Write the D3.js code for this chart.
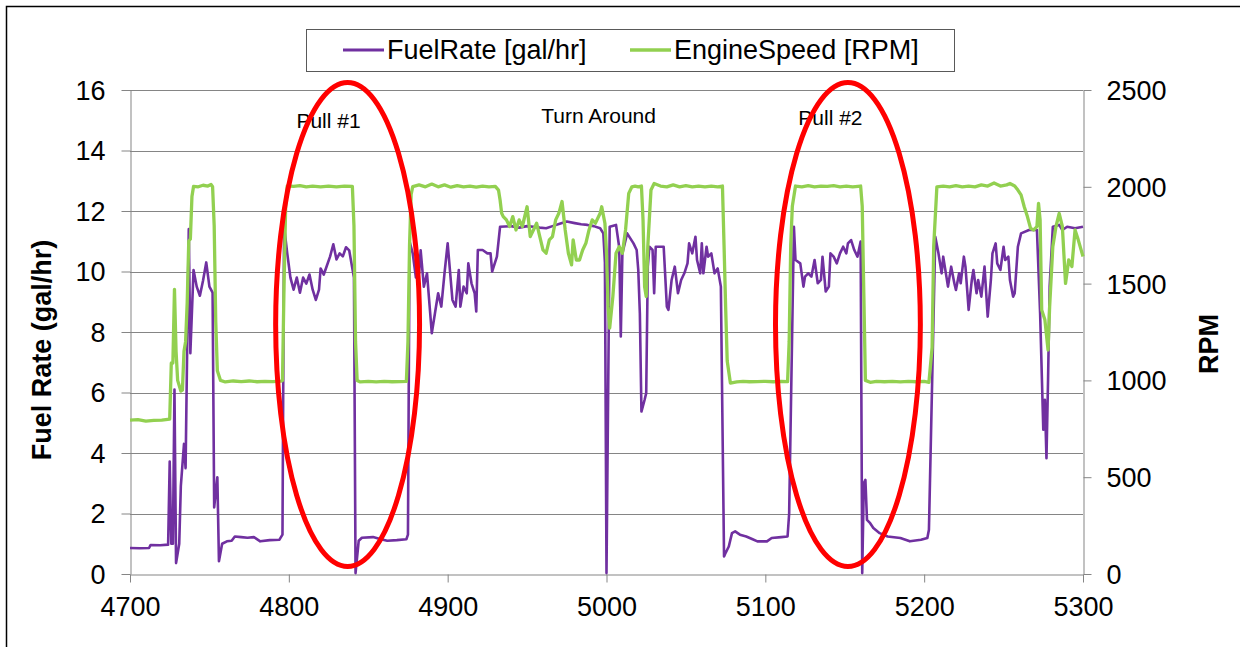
<!DOCTYPE html>
<html><head><meta charset="utf-8">
<script src="https://cdn.jsdelivr.net/npm/d3@7/dist/d3.min.js"></script>
<style>
body{margin:0;background:#fff}
svg{display:block}
text{font-family:"Liberation Sans",Arial,sans-serif}
</style>
</head><body>
<svg id="c" width="1240" height="647"></svg>
<script>
// ---------- data ----------
const xTicks = [4700, 4800, 4900, 5000, 5100, 5200, 5300];
const fuelTicks = [0, 2, 4, 6, 8, 10, 12, 14, 16];
const rpmTicks = [0, 500, 1000, 1500, 2000, 2500];
const seriesNames = ["FuelRate [gal/hr]", "EngineSpeed [RPM]"];
const axisTitles = ["Fuel Rate (gal/hr)", "RPM"];

const fuelTime = [4700,4706,4712,4713,4719,4724,4725,4726,4727,4728,4729,4731,4732,4734,4735,4736,4737,4738,4740,4742,4744,4746,4748,4750,4752,4753,4755,4756,4758,4761,4764,4766,4770,4774,4778,4782,4788,4794,4796,4797,4799,4801,4803,4805,4807,4809,4811,4813,4815,4817,4819,4820,4822,4824,4826,4828,4830,4832,4834,4836,4838,4840,4841,4842,4844,4846,4853,4858,4862,4868,4874,4875,
4876,4877,4878,4880,4882,4883,4885,4887,4889,4890,4892,4894,4896,4898,4900,4903,4905,4907,4908,4910,4912,4913,4915,4917,4918,4919,4922,4925,4927,4928,4931,4933,4940,4945,4950,4954,4958,4962,4966,4971,4975,4980,4984,4988,4992,4996,4998,4999,5000,5002,5006,5008,5009,5010,5013,5017,5019,5020,5021,5022,5024,5025,5026,5027,5029,5030,5031,5036,5038,5039,5041,5043,5045,5047,5049,5051,5052,5054,5056,5057,5059,5060,5061,5063,5064,5066,5068,5070,5072,
5074,5075,5077,5079,5081,5084,5088,5092,5095,5101,5104,5110,5114,5115,5118,5119,5122,5124,5125,5127,5129,5131,5133,5135,5136,5138,5140,5141,5143,5145,5147,5149,5151,5152,5154,5156,5158,5160,5161,5162,5163,5164,5166,5168,5172,5177,5185,5191,5198,5202,5203,5207,5209,5211,5212,5214,5215,5217,5219,5220,5222,5223,5225,5226,5228,5230,5231,5233,5234,5236,5238,5240,5242,5243,5245,5246,5248,5250,5251,5253,5254,5256,5257,5259,5261,5266,5271,5273,5275,5276,5277,5278,5279,5281,5285,5287,5290,5295,5300];
const fuelRate = [0.86,0.85,0.86,0.96,0.95,0.97,3.72,1.0,1.0,6.1,0.36,1.0,2.9,4.3,3.5,7.5,11.4,7.3,10.05,9.5,9.2,9.7,10.3,9.5,9.3,2.2,3.2,0.42,1.0,1.08,1.1,1.24,1.22,1.2,1.22,1.08,1.12,1.13,1.3,11.5,10.6,9.8,9.4,9.8,9.3,9.8,9.6,9.9,9.4,9.06,9.4,10.1,9.9,10.2,10.5,10.9,10.4,10.6,10.5,10.8,10.7,10.1,9.8,0.03,1.1,1.2,1.22,1.15,1.1,1.12,1.15,1.3,
11.0,10.8,10.6,9.8,9.94,10.7,9.5,9.94,8.62,7.96,8.62,9.28,8.84,9.94,10.93,9.06,8.84,10.05,8.84,9.5,9.28,10.27,9.61,9.28,8.68,10.71,10.71,10.6,10.6,10.0,10.49,11.48,11.5,11.45,11.5,11.48,11.45,11.43,11.5,11.59,11.65,11.6,11.56,11.54,11.5,11.43,11.26,10.3,0.03,11.48,11.54,10.8,7.85,10.6,11.26,10.93,10.71,10.05,8.62,5.37,5.76,5.98,10.16,10.82,10.71,9.28,10.82,10.82,8.84,8.73,9.72,10.16,9.28,9.72,9.94,10.27,10.93,10.6,11.15,10.38,9.94,10.93,9.94,10.82,10.49,10.6,9.94,10.1,9.5,
0.58,0.7,0.91,1.35,1.41,1.3,1.24,1.15,1.08,1.08,1.19,1.22,1.24,2.0,11.48,10.38,10.27,9.5,9.83,9.94,9.83,10.38,9.61,9.72,10.49,9.34,9.5,10.6,10.49,10.27,10.6,10.82,10.6,10.93,11.04,10.71,10.49,10.99,0.03,3.0,3.11,1.79,1.68,1.52,1.35,1.24,1.19,1.08,1.13,1.19,1.46,11.15,10.6,9.94,10.49,9.83,9.5,10.16,9.61,9.39,9.94,9.61,10.49,10.16,8.73,9.72,10.05,9.28,9.72,9.17,10.16,8.51,9.72,10.6,10.93,10.27,10.05,10.82,10.38,10.49,9.72,9.17,9.28,10.82,11.26,11.37,11.37,8.62,4.77,5.76,3.83,6.42,9.5,11.48,11.54,11.37,11.48,11.43,11.48];

const rpmTime = [4700,4705,4710,4715,4720,4725,4726,4727,4728,4729,4730,4732,4733,4734,4735,4736,4737,4738,4739,4740,4743,4746,4749,4751,4752,4753,4754,4755,4757,4760,4765,4770,4775,4780,4785,4790,4795,4796,4797,4798,4799,4803,4807,4811,4815,4820,4825,4830,4835,4840,4841,4842,4843,4845,4850,4855,4860,4865,4870,4874,4875,4876,4877,4878,4882,4886,4890,4894,4898,4902,4906,4910,4914,4918,4922,4926,4930,4932,4933,4934,4935,4937,4939,4941,4943,4945,4947,4950,4952,4954,4956,4958,4960,4962,4964,4966,4968,4970,4972,4974,4976,4978,4979,4981,4983,4985,4987,4989,4991,4993,4996,4997,4999,5000,5001,5002,5004,5006,5008,5010,5012,5014,5016,5018,5020,5022,5023,5024,5025,5026,5028,5030,5034,5038,5042,5046,5050,5054,5058,5062,5066,5070,5073,5074,5075,5076,5078,5082,5086,5090,5095,5100,5105,5110,5114,5115,5116,5117,5119,5123,5127,5131,5135,5139,5143,5147,5151,5155,5160,5161,5162,5163,5166,5170,5175,5180,5185,5190,5195,5200,5203,5205,5206,5208,5212,5216,5220,5224,5228,5232,5236,5240,5244,5248,5252,5254,5257,5259,5261,5263,5265,5267,5269,5271,5272,5273,5274,5276,5278,5279,5281,5283,5285,5287,5289,5291,5293,5295,5297,5300];
const rpmValue = [795,797,790,793,795,800,1090,1090,1470,1150,1000,945,950,1150,1200,1400,1720,1730,1950,2002,2000,2008,2004,2012,2000,1800,1300,1050,1000,992,997,994,997,993,995,994,996,1000,1500,1900,2005,2002,2006,2000,2004,2000,2004,2000,2003,2002,1800,1200,1000,992,995,992,995,993,994,995,1200,1700,1960,2001,2010,2000,2014,2000,2010,1998,2006,2000,2004,1998,2004,2000,2002,1983,1932,1863,1846,1829,1795,1846,1777,1829,1795,1897,1743,1777,1812,1743,1674,1657,1726,1743,1829,1863,1924,1777,1657,1597,1726,1622,1622,1674,1708,1777,1829,1812,1863,1897,1812,1657,1381,1270,1433,1657,1691,1657,1777,1966,2000,2004,2000,2004,1829,1484,1433,1691,1983,2017,2004,2000,2010,2000,2006,2000,2004,2000,2004,2000,2004,1700,1381,1100,986,992,995,993,994,995,993,995,994,1200,1700,1900,2004,2000,2006,2000,2004,2002,2006,2000,2004,2000,2004,1900,1450,1000,990,995,993,995,992,995,993,995,990,1170,1691,2000,2004,2000,2006,2000,2004,2000,2010,2004,2020,2004,2010,2017,2004,1983,1958,1897,1846,1785,1777,1795,1914,1829,1364,1313,1157,1381,1691,1795,1863,1795,1501,1622,1588,1777,1726,1640];

const noteLabels = ["Pull #1", "Turn Around", "Pull #2"];
const noteTime = [4825, 4995, 5141];
const noteFuel = [14.75, 14.9, 14.85];
const ringTime = [4837, 5152];
const ringFuel = [8.25, 8.25];
const ringHalfTime = [45.3, 45.6];
const ringHalfFuel = [8.0, 8.0];

// ---------- chart ----------
const svg = d3.select("#c");
const m = {l:130, r:1083, t:90, b:574};
const x = d3.scaleLinear().domain([4700, 5300]).range([m.l, m.r]);
const yL = d3.scaleLinear().domain([0, 16]).range([m.b, m.t]);
const yR = d3.scaleLinear().domain([0, 2500]).range([m.b, m.t]);
const FONT = 27;

// outer frame (only top and left edges visible)
svg.append("path").attr("d","M6.5,647V6.5H1240").attr("fill","none").attr("stroke","#000").attr("stroke-width",1.5);

// gridlines
svg.append("g").selectAll("line").data(fuelTicks.filter(d=>d>0)).join("line")
  .attr("x1", m.l).attr("x2", m.r).attr("y1", d=>Math.round(yL(d))+0.5).attr("y2", d=>Math.round(yL(d))+0.5)
  .attr("stroke","#858585").attr("stroke-width",1);

function styleAxis(g){
  g.selectAll("path.domain").attr("stroke","#858585").attr("stroke-width",1);
  g.selectAll(".tick line").attr("stroke","#858585").attr("stroke-width",1);
  g.selectAll("text").attr("font-size",FONT).attr("fill","#000").attr("font-family",'"Liberation Sans",Arial,sans-serif');
}
// left axis
const gl = svg.append("g").attr("transform",`translate(${m.l+0.5},0)`)
  .call(d3.axisLeft(yL).tickValues(fuelTicks).tickFormat(d3.format("d")).tickSize(9).tickSizeOuter(0).tickPadding(16));
styleAxis(gl);
gl.selectAll("text").attr("dy","0.35em");
// right axis
const gr = svg.append("g").attr("transform",`translate(${m.r+0.5},0)`)
  .call(d3.axisRight(yR).tickValues(rpmTicks).tickFormat(d3.format("d")).tickSize(8).tickSizeOuter(0).tickPadding(15));
styleAxis(gr);
gr.selectAll("text").attr("dy","0.35em");
// bottom axis
const gb = svg.append("g").attr("transform",`translate(0,${m.b+0.5})`)
  .call(d3.axisBottom(x).tickValues(xTicks).tickFormat(d3.format("d")).tickSize(8).tickSizeOuter(0).tickPadding(14));
styleAxis(gb);
gb.selectAll("text").attr("dy","0.71em");

// axis titles
svg.append("text").attr("transform",`translate(51,350) rotate(-90)`).attr("text-anchor","middle")
  .attr("font-size",FONT).attr("font-weight","bold").text(axisTitles[0]);
svg.append("text").attr("transform",`translate(1218,344) rotate(-90)`).attr("text-anchor","middle")
  .attr("font-size",FONT).attr("font-weight","bold").text(axisTitles[1]);

// series
const fuelData = fuelTime.map((t,i)=>[t, fuelRate[i]]);
const rpmData = rpmTime.map((t,i)=>[t, rpmValue[i]]);
svg.append("path").datum(fuelData)
  .attr("d", d3.line().x(d=>x(d[0])).y(d=>yL(d[1])))
  .attr("fill","none").attr("stroke","#7030A0").attr("stroke-width",2.6).attr("stroke-linejoin","round");
svg.append("path").datum(rpmData)
  .attr("d", d3.line().x(d=>x(d[0])).y(d=>yR(d[1])))
  .attr("fill","none").attr("stroke","#92D050").attr("stroke-width",3.3).attr("stroke-linejoin","round");

// annotations text
svg.append("g").selectAll("text").data(noteLabels).join("text")
  .attr("x",(d,i)=>x(noteTime[i])).attr("y",(d,i)=>yL(noteFuel[i]))
  .attr("text-anchor","middle").attr("font-family",'"Open Sans",sans-serif').attr("font-size",21)
  .attr("fill","#000").text(d=>d);

// red rings
svg.append("g").selectAll("ellipse").data(ringTime).join("ellipse")
  .attr("cx",(d)=>x(d)).attr("cy",(d,i)=>yL(ringFuel[i]))
  .attr("rx",(d,i)=>x(4700+ringHalfTime[i])-x(4700))
  .attr("ry",(d,i)=>yL(0)-yL(ringHalfFuel[i]))
  .attr("fill","none").attr("stroke","#FF0000").attr("stroke-width",5);

// legend
const lg = svg.append("g");
lg.append("rect").attr("x",306.5).attr("y",29.5).attr("width",648).attr("height",42)
  .attr("fill","#fff").attr("stroke","#595959").attr("stroke-width",1);
const legX = [343, 630];
const legColor = ["#7030A0", "#92D050"];
const legW = [3, 3.5];
seriesNames.forEach((n,i)=>{
  lg.append("line").attr("x1",legX[i]).attr("x2",legX[i]+41).attr("y1",50).attr("y2",50)
    .attr("stroke",legColor[i]).attr("stroke-width",legW[i]);
  lg.append("text").attr("x",legX[i]+44).attr("y",59).attr("font-size",FONT).attr("fill","#000").text(n);
});
</script>
</body></html>
